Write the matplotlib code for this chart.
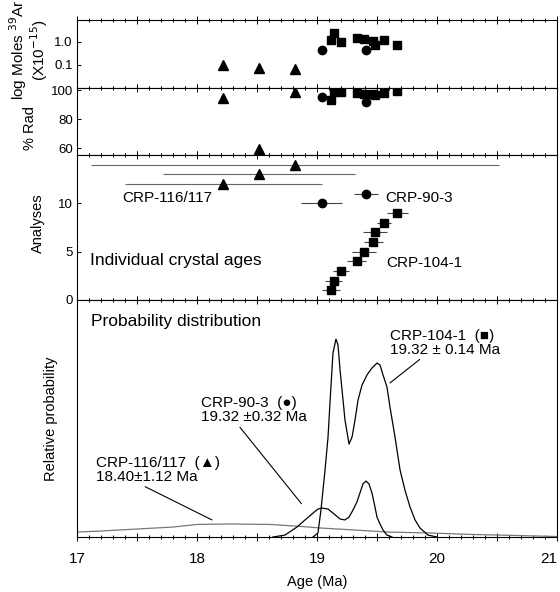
import matplotlib
matplotlib.use('Agg')
import matplotlib.pyplot as plt
import matplotlib.transforms as mtransforms
from matplotlib.ticker import MultipleLocator, FuncFormatter, NullLocator

plt.rcParams['font.family'] = ['Liberation Sans', 'DejaVu Sans']

# CRP-116/117 (triangles)
tri_age = [18.22, 18.52, 18.82]
tri_err = [0.82, 0.80, 1.70]
tri_moles = [0.10, 0.076, 0.070]
tri_rad = [94.5, 59.3, 98.6]
tri_n = [12, 13, 14]

# CRP-90-3 (circles)
circ_age = [19.04, 19.41]
circ_err = [0.17, 0.10]
circ_moles = [0.45, 0.43]
circ_rad = [95.2, 91.7]
circ_n = [10, 11]

# CRP-104-1 (squares)
sq_age = [19.12, 19.14, 19.20, 19.33, 19.39, 19.47, 19.48, 19.56, 19.67]
sq_err = [0.075, 0.07, 0.07, 0.08, 0.10, 0.08, 0.10, 0.06, 0.09]
sq_moles = [1.22, 2.46, 1.0, 1.49, 1.3, 1.1, 0.74, 1.22, 0.74]
sq_rad = [93.1, 98.5, 98.6, 97.9, 97.5, 97.2, 96.6, 98.0, 99.5]
sq_n = [1, 2, 3, 4, 5, 6, 7, 8, 9]

# probability curves (age, relative probability)
p104_age = [18.967, 19.008, 19.033, 19.067, 19.092, 19.108, 19.133, 19.158, 19.175,
            19.192, 19.217, 19.233, 19.267, 19.292, 19.317, 19.342, 19.375, 19.417,
            19.458, 19.5, 19.525, 19.55, 19.583, 19.608, 19.65, 19.692, 19.733,
            19.775, 19.817, 19.858, 19.925, 20.0]
p104_val = [0, 0.017, 0.114, 0.283, 0.422, 0.565, 0.776, 0.835, 0.810,
            0.705, 0.578, 0.494, 0.392, 0.422, 0.494, 0.578, 0.641, 0.684,
            0.713, 0.734, 0.726, 0.684, 0.633, 0.549, 0.422, 0.283, 0.198,
            0.127, 0.072, 0.038, 0.008, 0]
p90_age = [18.633, 18.733, 18.833, 18.9, 18.967, 19.008, 19.042, 19.092, 19.133,
           19.192, 19.233, 19.267, 19.3, 19.333, 19.358, 19.383, 19.408, 19.433,
           19.458, 19.483, 19.5, 19.525, 19.55, 19.583, 19.625]
p90_val = [0, 0.008, 0.042, 0.072, 0.101, 0.118, 0.122, 0.118, 0.101,
           0.076, 0.072, 0.084, 0.114, 0.148, 0.186, 0.224, 0.236, 0.224,
           0.186, 0.127, 0.084, 0.055, 0.030, 0.008, 0]
p116_age = [17.0, 17.19, 17.44, 17.8, 18.0, 18.275, 18.608, 18.883, 19.025,
            19.3, 19.583, 19.942, 20.275, 20.692, 21.0]
p116_val = [0.021, 0.025, 0.032, 0.042, 0.053, 0.055, 0.053, 0.044, 0.038,
            0.030, 0.021, 0.017, 0.011, 0.006, 0.002]

fig = plt.figure(figsize=(5.6, 5.92), dpi=100)


def pos(top, bot):
    # pixel rows -> figure fraction
    return [77 / 560, 1 - bot / 592, 480 / 560, (bot - top) / 592]


ax1 = fig.add_axes(pos(20, 88))
ax2 = fig.add_axes(pos(88, 155))
ax3 = fig.add_axes(pos(155, 300))
ax4 = fig.add_axes(pos(300, 537))

for ax in [ax1, ax2, ax3, ax4]:
    ax.set_xlim(17, 21)
    ax.xaxis.set_major_locator(MultipleLocator(0.5))
    ax.xaxis.set_minor_locator(MultipleLocator(0.1))
    ax.tick_params(axis='x', which='both', direction='inout', top=True, bottom=True,
                   labelbottom=False, width=0.7)
    ax.tick_params(axis='x', which='major', length=6)
    ax.tick_params(axis='x', which='minor', length=3)
    ax.tick_params(axis='y', direction='in', length=3, width=0.7, labelsize=9.5, pad=3)
    for s in ax.spines.values():
        s.set_linewidth(0.8)

# log moles panel
ax1.set_yscale('log')
ax1.plot(tri_age, tri_moles, '^', color='k', ms=7)
ax1.plot(circ_age, circ_moles, 'o', color='k', ms=6)
ax1.plot(sq_age, sq_moles, 's', color='k', ms=6)
ax1.set_ylim(0.01, 9)
ax1.set_yticks([0.1, 1.0])
ax1.set_yticklabels(['0.1', '1.0'])
ax1.yaxis.set_minor_locator(NullLocator())
ax1.set_ylabel('log Moles $^{39}$Ar\n(X10$^{-15}$)', fontsize=11, linespacing=0.95, va='center')
ax1.yaxis.set_label_coords(-0.1, 0.56)

# % rad panel
ax2.plot(tri_age, tri_rad, '^', color='k', ms=7)
ax2.plot(circ_age, circ_rad, 'o', color='k', ms=6)
ax2.plot(sq_age, sq_rad, 's', color='k', ms=6)
ax2.set_ylim(55.2, 101.4)
ax2.set_yticks([60, 80, 100])
ax2.set_ylabel('% Rad', fontsize=10.5, va='center')
ax2.yaxis.set_label_coords(-0.098, 0.40)

# individual crystal ages
ax3.errorbar(tri_age, tri_n, xerr=tri_err, fmt='^', color='k', ecolor='#666666',
             elinewidth=0.8, ms=7, capsize=0)
ax3.errorbar(circ_age, circ_n, xerr=circ_err, fmt='o', color='k', ecolor='#444444',
             elinewidth=0.8, ms=6, capsize=0)
ax3.errorbar(sq_age, sq_n, xerr=sq_err, fmt='s', color='k', ecolor='#444444',
             elinewidth=0.8, ms=6, capsize=0)
ax3.set_ylim(0, 15)
ax3.set_yticks([0, 5, 10])
ax3.set_ylabel('Analyses', fontsize=10.5, va='center')
ax3.yaxis.set_label_coords(-0.081, 0.53)
ax3.text(17.38, 10.6, 'CRP-116/117', fontsize=11, va='center')
ax3.text(19.57, 10.6, 'CRP-90-3', fontsize=11, va='center')
ax3.text(19.58, 3.8, 'CRP-104-1', fontsize=11, va='center')
ax3.text(17.11, 4.1, 'Individual crystal ages', fontsize=12.5, va='center')

# probability distribution
ax4.plot(p116_age, p116_val, color='#777777', lw=0.9)
ax4.plot(p90_age, p90_val, color='k', lw=0.9)
ax4.plot(p104_age, p104_val, color='k', lw=0.9)
ax4.set_ylim(0, 1)
ax4.set_yticks([0])
ax4.set_yticklabels([''])
ax4.set_ylabel('Relative probability', fontsize=10.5, va='center')
ax4.yaxis.set_label_coords(-0.054, 0.5)
ax4.tick_params(axis='x', labelbottom=True, labelsize=11, pad=8)
ax4.xaxis.set_major_formatter(FuncFormatter(lambda v, p: '%d' % round(v) if abs(v - round(v)) < 1e-6 else ''))
ax4.set_xlabel('Age (Ma)', fontsize=10.5, labelpad=6)
ax4.text(17.12, 0.91, 'Probability distribution', fontsize=12.5, va='center')

ax4.annotate('CRP-104-1  (\u25a0)\n19.32 \u00b1 0.14 Ma', xy=(19.608, 0.650), xytext=(19.61, 0.82),
             fontsize=11, va='center', linespacing=1.0,
             arrowprops=dict(arrowstyle='-', lw=0.8, color='k', shrinkA=0, shrinkB=0,
                             relpos=(0.3, 0.0)))
ax4.annotate('CRP-90-3  (\u25cf)\n19.32 \u00b10.32 Ma', xy=(18.9, 0.122), xytext=(18.03, 0.534),
             fontsize=11, va='center', linespacing=1.0,
             arrowprops=dict(arrowstyle='-', lw=0.8, color='k', shrinkA=0, shrinkB=4,
                             relpos=(0.35, 0.0)))
ax4.annotate('CRP-116/117  (\u25b2)\n18.40\u00b11.12 Ma', xy=(18.125, 0.072), xytext=(17.16, 0.283),
             fontsize=11, va='center', linespacing=1.0,
             arrowprops=dict(arrowstyle='-', lw=0.8, color='k', shrinkA=0, shrinkB=0,
                             relpos=(0.35, 0.0)))

# the "21" label sits on the right edge, nudge it inside
fig.canvas.draw()
for t in ax4.xaxis.get_major_ticks():
    if abs(t.get_loc() - 21) < 1e-6:
        t.label1.set_transform(t.label1.get_transform() +
                               mtransforms.ScaledTranslation(-6 / 72, 0, fig.dpi_scale_trans))

fig.savefig('out.png', dpi=100)
